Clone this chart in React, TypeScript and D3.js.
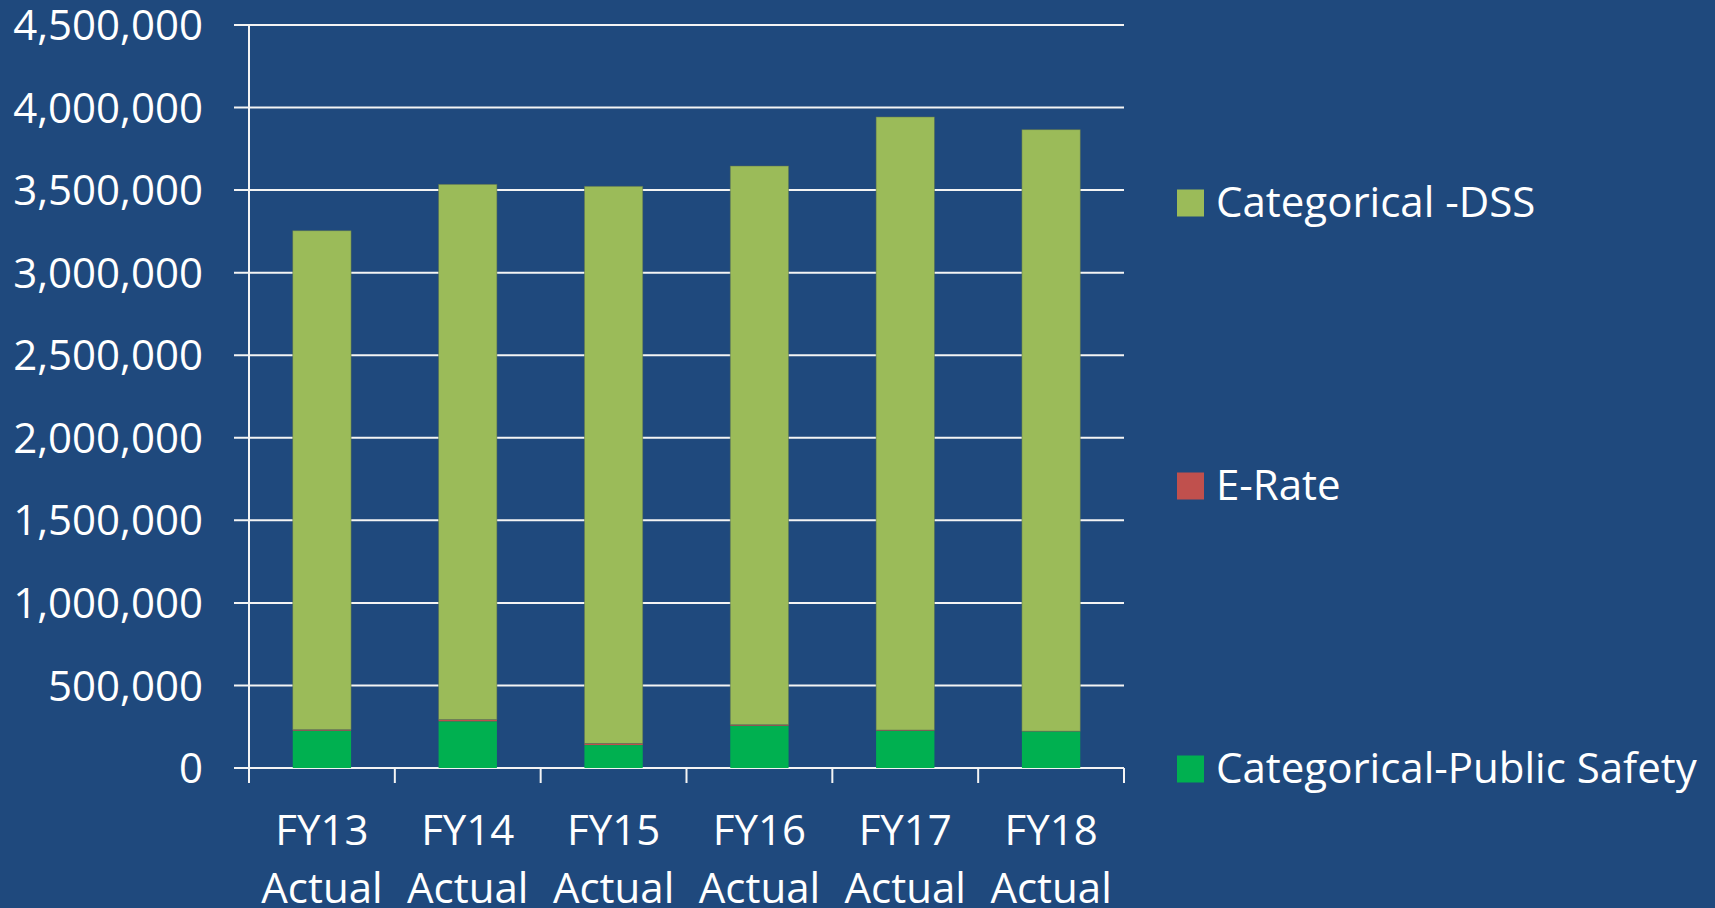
import React from "react";
import * as d3 from "d3";

const categories = ["FY13", "FY14", "FY15", "FY16", "FY17", "FY18"];
const categoryLine2 = ["Actual", "Actual", "Actual", "Actual", "Actual", "Actual"];
const publicSafety = [226000, 283000, 139000, 256000, 226000, 222000];
const eRate = [6000, 10000, 10000, 6000, 4000, 1000];
const dss = [3022000, 3242000, 3374000, 3384000, 3713000, 3643000];
const yTicks = [0, 500000, 1000000, 1500000, 2000000, 2500000, 3000000, 3500000, 4000000, 4500000];
const seriesKeys = ["Categorical-Public Safety", "E-Rate", "Categorical -DSS"];
const seriesColors = ["#00B050", "#C0504D", "#9BBB59"];
const legendOrder = ["Categorical -DSS", "E-Rate", "Categorical-Public Safety"];

const W = 1715;
const H = 908;
const BG = "#1F497D";
const FONT = "'Open Sans', sans-serif";
const FS = 42;

export default function App() {
  const x = d3.scaleBand<string>().domain(categories).range([249, 1124]).padding(0);
  const y = d3.scaleLinear().domain([0, 4500000]).range([768, 25]);

  const rows = categories.map((c, i) => ({
    cat: c,
    "Categorical-Public Safety": publicSafety[i],
    "E-Rate": eRate[i],
    "Categorical -DSS": dss[i],
  }));
  const stacked = d3.stack<any>().keys(seriesKeys)(rows);
  const bw = x.bandwidth() * 0.4;
  const fmt = d3.format(",");
  const colorOf = (k: string) => seriesColors[seriesKeys.indexOf(k)];
  const legendY = [203, 486, 769];

  const boundaries = d3.range(categories.length + 1).map((i) => 249 + i * x.step());

  return (
    <svg
      width={W}
      height={H}
      style={{ position: "absolute", left: 0, top: 0, display: "block" }}
      fontFamily={FONT}
    >
      <rect x={0} y={0} width={W} height={H} fill={BG} />
      {yTicks.map((t) => (
        <line key={t} x1={234} x2={1124} y1={y(t)} y2={y(t)} stroke="#F4F4F4" strokeWidth={2} />
      ))}
      <line x1={249} x2={249} y1={y(4500000)} y2={783} stroke="#F4F4F4" strokeWidth={2} />
      {boundaries.map((b, i) => (
        <line key={i} x1={b} x2={b} y1={768} y2={783} stroke="#F4F4F4" strokeWidth={2} />
      ))}
      {stacked.map((s) => (
        <g key={s.key} fill={colorOf(s.key)}>
          {s.map((d, i) => {
            const cx = (x(categories[i]) as number) + x.bandwidth() / 2;
            const h = y(d[0]) - y(d[1]);
            return (
              <rect
                key={i}
                x={cx - bw / 2}
                y={y(d[1])}
                width={bw}
                height={Math.max(h, 0)}
                stroke={s.key === "Categorical -DSS" ? "rgba(90,110,80,0.6)" : "none"}
                strokeWidth={s.key === "Categorical -DSS" ? 0.8 : 0}
              />
            );
          })}
        </g>
      ))}
      {yTicks.map((t) => (
        <text key={t} x={203} y={y(t)} dy="0.36em" textAnchor="end" fill="#FFFFFF" fontSize={FS}>
          {fmt(t)}
        </text>
      ))}
      {categories.map((c, i) => {
        const cx = (x(c) as number) + x.bandwidth() / 2;
        return (
          <g key={c}>
            <text x={cx} y={845} textAnchor="middle" fill="#FFFFFF" fontSize={FS}>
              {c}
            </text>
            <text x={cx} y={903} textAnchor="middle" fill="#FFFFFF" fontSize={FS}>
              {categoryLine2[i]}
            </text>
          </g>
        );
      })}
      {legendOrder.map((k, i) => (
        <g key={k}>
          <rect x={1177} y={legendY[i] - 13.5} width={27} height={27} fill={colorOf(k)} />
          <text x={1216} y={legendY[i] + 14} fill="#FFFFFF" fontSize={FS}>
            {k}
          </text>
        </g>
      ))}
    </svg>
  );
}
